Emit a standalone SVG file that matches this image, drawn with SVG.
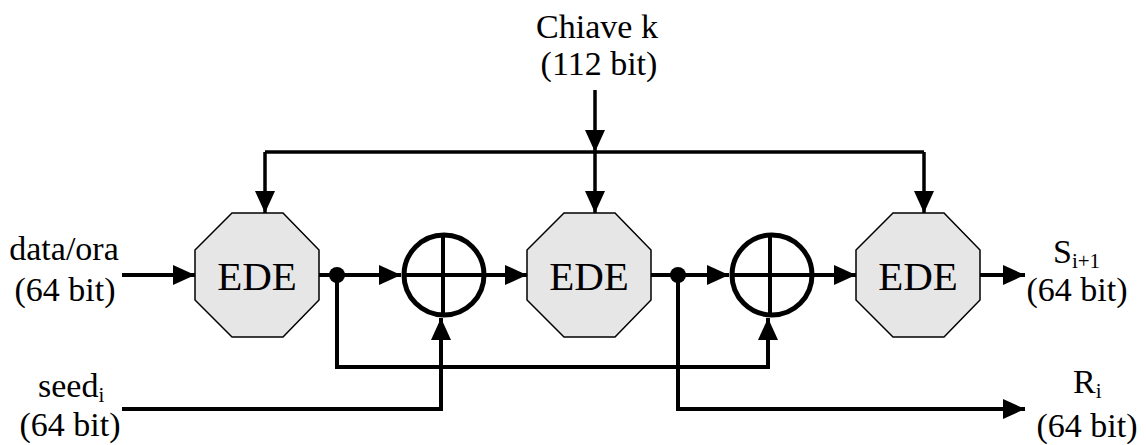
<svg xmlns="http://www.w3.org/2000/svg" width="1146" height="445" viewBox="0 0 1146 445">
<style>
.oct{fill:#e6e6e6;stroke:#000;stroke-width:1.5}
.w{fill:none;stroke:#000;stroke-width:4}
.k{fill:none;stroke:#000;stroke-width:3.5}
.x{fill:none;stroke:#000;stroke-width:5}
</style>
<defs>
<marker id="ar" markerUnits="userSpaceOnUse" markerWidth="22" markerHeight="20" refX="22" refY="10" orient="auto" viewBox="0 0 22 20">
<path d="M0,0 L22,10 L0,20 z" fill="#000"/>
</marker>
</defs>
<rect width="1146" height="445" fill="#fff"/>
<g id="connectors">
<path class="k" d="M595,90 L595,152" marker-end="url(#ar)"/>
<path class="k" d="M265,152 L924,152"/>
<path class="k" d="M265,152 L265,213" marker-end="url(#ar)"/>
<path class="k" d="M595,152 L595,213" marker-end="url(#ar)"/>
<path class="k" d="M924,152 L924,213" marker-end="url(#ar)"/>
<path class="w" d="M122,275 L195,275" marker-end="url(#ar)"/>
<path class="w" d="M319,275 L401,275" marker-end="url(#ar)"/>
<path class="w" d="M485,275 L527,275" marker-end="url(#ar)"/>
<path class="w" d="M651,275 L729,275" marker-end="url(#ar)"/>
<path class="w" d="M813,275 L856,275" marker-end="url(#ar)"/>
<path class="w" d="M980,275 L1025,275" marker-end="url(#ar)"/>
<path class="w" d="M337,275 L337,367 L768,367 L768,318" marker-end="url(#ar)"/>
<path class="w" d="M122,409 L441,409 L441,318" marker-end="url(#ar)"/>
<path class="w" d="M678,275 L678,409 L1025,409" marker-end="url(#ar)"/>
<circle cx="337" cy="275" r="8" fill="#000"/>
<circle cx="678" cy="275" r="8" fill="#000"/>
</g>
<g id="ede1">
<polygon class="oct" points="232,213 283,213 319,250 319,300 283,337 232,337 195,300 195,250"/>
<text font-family="Liberation Serif" font-size="41" text-anchor="middle" x="257" y="290">EDE</text>
</g>
<g id="ede2">
<polygon class="oct" points="564,213 615,213 651,250 651,300 615,337 564,337 527,300 527,250"/>
<text font-family="Liberation Serif" font-size="41" text-anchor="middle" x="589" y="290">EDE</text>
</g>
<g id="ede3">
<polygon class="oct" points="893,213 944,213 980,250 980,300 944,337 893,337 856,300 856,250"/>
<text font-family="Liberation Serif" font-size="41" text-anchor="middle" x="918" y="290">EDE</text>
</g>
<g id="xor1">
<circle class="x" cx="444" cy="275" r="40"/>
<path class="w" d="M404,275 L484,275 M443,235 L443,315"/>
</g>
<g id="xor2">
<circle class="x" cx="772" cy="275" r="40"/>
<path class="w" d="M732,275 L812,275 M770,235 L770,315"/>
</g>
<g id="key">
<text font-family="Liberation Serif" font-size="34" x="597" y="38" text-anchor="middle">Chiave k</text>
<text font-family="Liberation Serif" font-size="34" x="599" y="75" text-anchor="middle">(112 bit)</text>
</g>
<g id="dataora">
<text font-family="Liberation Serif" font-size="34" x="64" y="260" text-anchor="middle">data/ora</text>
<text font-family="Liberation Serif" font-size="34" x="65" y="301" text-anchor="middle">(64 bit)</text>
</g>
<g id="seed">
<text font-family="Liberation Serif" font-size="34" x="38" y="397">seed<tspan font-size="21" dy="5">i</tspan></text>
<text font-family="Liberation Serif" font-size="34" x="70" y="436" text-anchor="middle">(64 bit)</text>
</g>
<g id="snext">
<text font-family="Liberation Serif" font-size="34" x="1053" y="263">S<tspan font-size="21" dy="5">i+1</tspan></text>
<text font-family="Liberation Serif" font-size="34" x="1077" y="301" text-anchor="middle">(64 bit)</text>
</g>
<g id="ri">
<text font-family="Liberation Serif" font-size="34" x="1073" y="393">R<tspan font-size="21" dy="5">i</tspan></text>
<text font-family="Liberation Serif" font-size="34" x="1087" y="437" text-anchor="middle">(64 bit)</text>
</g>
</svg>
